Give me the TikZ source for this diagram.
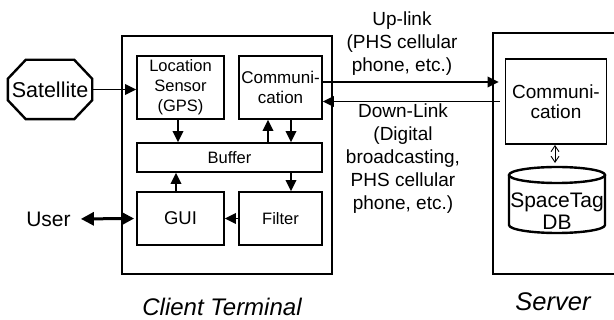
\documentclass[tikz,border=0pt]{standalone}
\usepackage{fontspec}
\setmainfont{Liberation Sans}
\usetikzlibrary{arrows.meta,calc}

\begin{document}
\begin{tikzpicture}[x=1pt,y=-1pt,
  outer/.style={draw,line width=1.8pt},
  blk/.style={draw,line width=1.8pt,inner sep=0pt,align=center,font=\fontsize{16.5}{20}\selectfont},
  arr/.style={line width=1.8pt,-{Triangle[length=11pt,width=10.5pt]}},
  bigarr/.style={line width=3pt,{Triangle[length=13pt,width=13pt]}-{Triangle[length=13pt,width=13pt]}},
  thinarr/.style={line width=0.9pt,{Straight Barb[length=6pt,width=8pt]}-{Straight Barb[length=6pt,width=8pt]}},
  lbl/.style={align=center,inner sep=0pt,font=\fontsize{19}{23}\selectfont},
  captn/.style={inner sep=0pt,font=\fontsize{24}{28}\selectfont\itshape}
]
\path[use as bounding box] (0,0) rectangle (614,320);
\clip (0,0) rectangle (614,320);

% enclosing frames of the two sides
\draw[outer] (122,36) rectangle (332,274);
\draw[outer] (493,33) rectangle (640,274);

% client terminal modules
\node[blk,minimum width=87pt,minimum height=63pt] (loc) at (180.5,87.5) {Location\\Sensor\\(GPS)};
\node[blk,minimum width=83pt,minimum height=63pt,font=\fontsize{17}{20}\selectfont] (ccomm) at (280.5,87.5) {Communi-\\cation};
\node[blk,minimum width=185pt,minimum height=29pt] (buf) at (229.5,157.5) {Buffer};
\node[blk,minimum width=87pt,minimum height=53pt,font=\fontsize{18.5}{22}\selectfont] (gui) at (180.5,218.5) {GUI};
\node[blk,minimum width=83pt,minimum height=53pt] (filt) at (280.5,218.5) {Filter};

% satellite (octagon)
\node[inner sep=0pt,minimum width=84pt,minimum height=59pt,font=\fontsize{21.5}{24}\selectfont] (sat) at (50,89.5) {Satellite};
\draw[line width=2.4pt,line join=miter]
  ($(sat.north west)+(18,0)$) -- ($(sat.north east)+(-18,0)$) --
  ($(sat.north east)+(0,19)$) -- ($(sat.south east)+(0,-19)$) --
  ($(sat.south east)+(-18,0)$) -- ($(sat.south west)+(18,0)$) --
  ($(sat.south west)+(0,-19)$) -- ($(sat.north west)+(0,19)$) -- cycle;

% user
\node[inner sep=0pt,font=\fontsize{21}{24}\selectfont] (user) at (48.5,219) {User};

% server modules
\node[blk,minimum width=101pt,minimum height=85pt,font=\fontsize{19}{20}\selectfont] (scomm) at (556,101.5) {Communi-\\cation};
\coordinate (dbtop) at (557,167);
\draw[line width=2.4pt] (557,175) ellipse [x radius=48pt,y radius=8pt];
\draw[line width=2.4pt] (509,175) -- (509,225)
  arc[start angle=180,end angle=360,x radius=48pt,y radius=8pt] -- (605,175);
\node[inner sep=0pt,align=center,font=\fontsize{21}{22}\selectfont] (db) at (557,211) {SpaceTag\\DB};

% captions
\node[captn] (ct) at (222,307) {Client Terminal};
\node[captn,font=\fontsize{25.5}{28}\selectfont\itshape] (sv) at (553,302) {Server};

% link labels
\node[lbl] (up) at (402,43.5) {Up-link\\(PHS cellular\\phone, etc.)};
\node[lbl] (down) at (403,159) {Down-Link\\(Digital\\broadcasting,\\PHS cellular\\phone, etc.)};

% data flow inside the client
\draw[arr] (sat.east) -- (sat.east -| loc.west);
\draw[arr] ([xshift=-2.5pt]loc.south) -- ([xshift=-2.5pt]loc.south |- buf.north);
\draw[arr] ([xshift=-12.5pt]ccomm.south |- buf.north) -- ([xshift=-12.5pt]ccomm.south);
\draw[arr] ([xshift=10.5pt]ccomm.south) -- ([xshift=10.5pt]ccomm.south |- buf.north);
\draw[arr] ([xshift=10.5pt]filt.north |- buf.south) -- ([xshift=10.5pt]filt.north);
\draw[arr] ([xshift=-4.5pt]gui.north) -- ([xshift=-4.5pt]gui.north |- buf.south);
\draw[arr] (filt.west) -- (gui.east);
\draw[bigarr,shorten <=10pt,shorten >=2pt] (user.east) -- (gui.west);

% up-link and down-link
\draw[arr,shorten >=6pt] ([yshift=5.5pt]ccomm.east) -- ([yshift=5.5pt]ccomm.east -| scomm.west);
\draw[arr,shorten <=5pt] ([yshift=-14pt]ccomm.east -| scomm.west) -- ([yshift=-14pt]ccomm.east);

% server communication <-> database
\draw[thinarr,shorten >=4pt] ([xshift=-1pt]scomm.south) -- ([xshift=-2pt]dbtop);
\end{tikzpicture}
\end{document}
